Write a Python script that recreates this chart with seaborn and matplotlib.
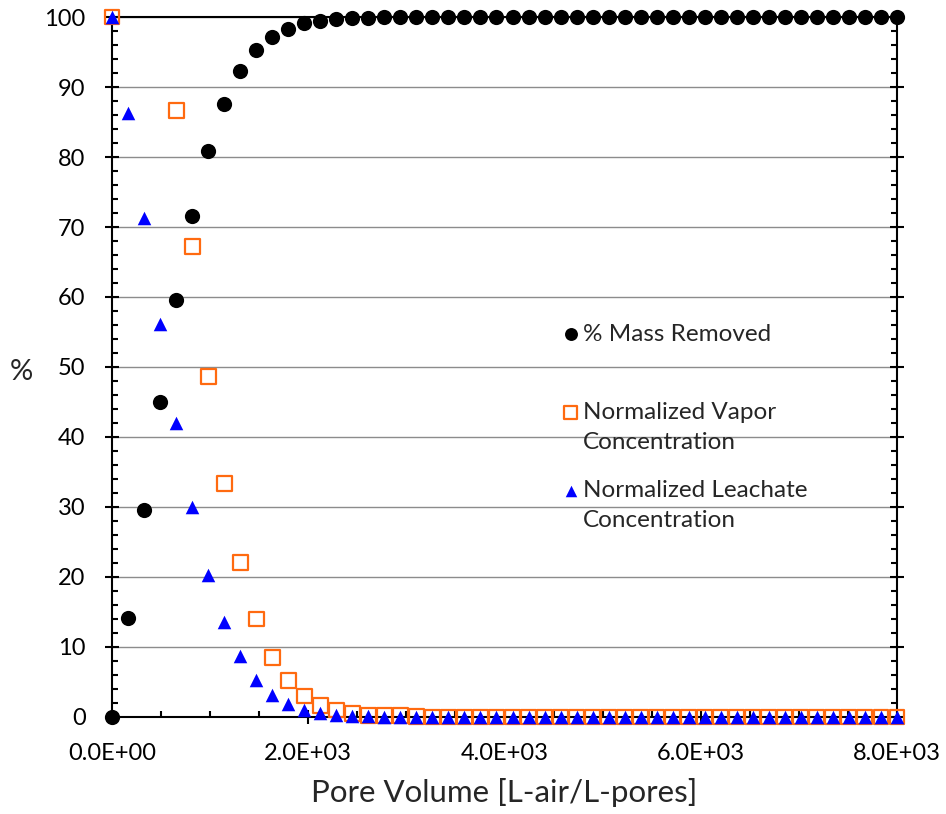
import matplotlib
matplotlib.use("Agg")
import matplotlib.pyplot as plt
import matplotlib.ticker as mticker
import seaborn as sns
import numpy as np

# Pore volume steps [L-air/L-pores]
pore_volume = [0, 163, 327, 490, 653, 816, 980, 1143, 1306, 1469,
               1633, 1796, 1959, 2122, 2286, 2449, 2612, 2776, 2939, 3102,
               3265, 3429, 3592, 3755, 3918, 4082, 4245, 4408, 4571, 4735,
               4898, 5061, 5224, 5388, 5551, 5714, 5878, 6041, 6204, 6367,
               6531, 6694, 6857, 7020, 7184, 7347, 7510, 7673, 7837, 8000]

mass_removed = [0.0, 14.1, 29.6, 45.0, 59.6, 71.6, 80.8, 87.6, 92.3, 95.3,
                97.2, 98.3, 99.1, 99.4, 99.7, 99.8, 99.9, 100, 100, 100,
                100, 100, 100, 100, 100, 100, 100, 100, 100, 100,
                100, 100, 100, 100, 100, 100, 100, 100, 100, 100,
                100, 100, 100, 100, 100, 100, 100, 100, 100, 100]

# points 1-3 lie above the 100 % limit and are not shown
vapor_conc = [100, np.nan, np.nan, np.nan, 86.6, 67.2, 48.6, 33.3, 22.1, 14.0,
              8.5, 5.2, 3.0, 1.7, 1.0, 0.5, 0.2, 0.2, 0.2, 0.1,
              0, 0, 0, 0, 0, 0, 0, 0, 0, 0,
              0, 0, 0, 0, 0, 0, 0, 0, 0, 0,
              0, 0, 0, 0, 0, 0, 0, 0, 0, 0]

leachate_conc = [100, 86.3, 71.3, 56.1, 42.0, 30.0, 20.3, 13.6, 8.7, 5.3,
                 3.1, 1.8, 1.0, 0.6, 0.3, 0.2, 0.1, 0, 0, 0,
                 0, 0, 0, 0, 0, 0, 0, 0, 0, 0,
                 0, 0, 0, 0, 0, 0, 0, 0, 0, 0,
                 0, 0, 0, 0, 0, 0, 0, 0, 0, 0]

labels = ["% Mass Removed\n", "Normalized Vapor\nConcentration",
          "Normalized Leachate\nConcentration"]

sns.set_theme(style="white")
plt.rcParams['font.family'] = ['Lato', 'DejaVu Sans']

fig = plt.figure(figsize=(9.46, 8.14), dpi=100)
ax = fig.add_axes([0.1184, 0.1192, 0.8298, 0.8599])

sns.scatterplot(x=pore_volume, y=mass_removed, ax=ax, marker='o', s=120,
                color='black', edgecolor='black', linewidth=0,
                label=labels[0], zorder=3, clip_on=False)
sns.scatterplot(x=pore_volume, y=vapor_conc, ax=ax, marker='s', s=115,
                facecolor='none', edgecolor='#FF6A10', linewidth=1.6,
                label=labels[1], zorder=4, clip_on=False)
sns.scatterplot(x=pore_volume, y=leachate_conc, ax=ax, marker='^', s=95,
                color='#0000FF', edgecolor='#0000FF', linewidth=0,
                label=labels[2], zorder=5, clip_on=False)

ax.set_xlim(0, 8000)
ax.set_ylim(0, 100)
ax.xaxis.set_major_locator(mticker.MultipleLocator(2000))
ax.xaxis.set_minor_locator(mticker.MultipleLocator(500))
ax.yaxis.set_major_locator(mticker.MultipleLocator(10))
ax.yaxis.set_minor_locator(mticker.MultipleLocator(2))
ax.xaxis.set_major_formatter(mticker.FuncFormatter(lambda v, p: f"{v:.1E}"))

ax.grid(axis='y', which='major', color='#8c8c8c', linewidth=1.0)
ax.set_axisbelow(True)

for side in ['left', 'bottom', 'right', 'top']:
    ax.spines[side].set_visible(True)
    ax.spines[side].set_color('black')
    ax.spines[side].set_linewidth(1.5)

ax.tick_params(axis='both', which='major', direction='inout', length=10,
               width=1.5, color='black', labelsize=17, labelcolor='black')
ax.tick_params(axis='both', which='minor', direction='in', length=4.5,
               width=1.5, color='black')
ax.tick_params(axis='y', which='both', right=True, labelright=False,
               left=True)
ax.tick_params(axis='y', which='major', pad=14)
ax.tick_params(axis='x', which='both', bottom=True, top=False)
ax.tick_params(axis='x', which='major', pad=14)

ax.set_xlabel('Pore Volume [L-air/L-pores]', fontsize=22.5, labelpad=10)
ax.set_ylabel('%', fontsize=21, rotation=0, va='center', ha='center')
ax.yaxis.set_label_coords(-0.115, 0.493)

leg = ax.legend(loc='upper left', bbox_to_anchor=(0.555, 0.579), frameon=False,
                fontsize=17.5, handletextpad=0.05, labelspacing=1.1,
                markerscale=0.85, handlelength=0.9, borderpad=0)
for t in leg.get_texts():
    t.set_linespacing(1.55)
for col in leg._legend_handle_box.get_children():
    for item in col.get_children():
        item.align = 'top'
leg.set_zorder(1)

plt.savefig('out.png', dpi=100)
